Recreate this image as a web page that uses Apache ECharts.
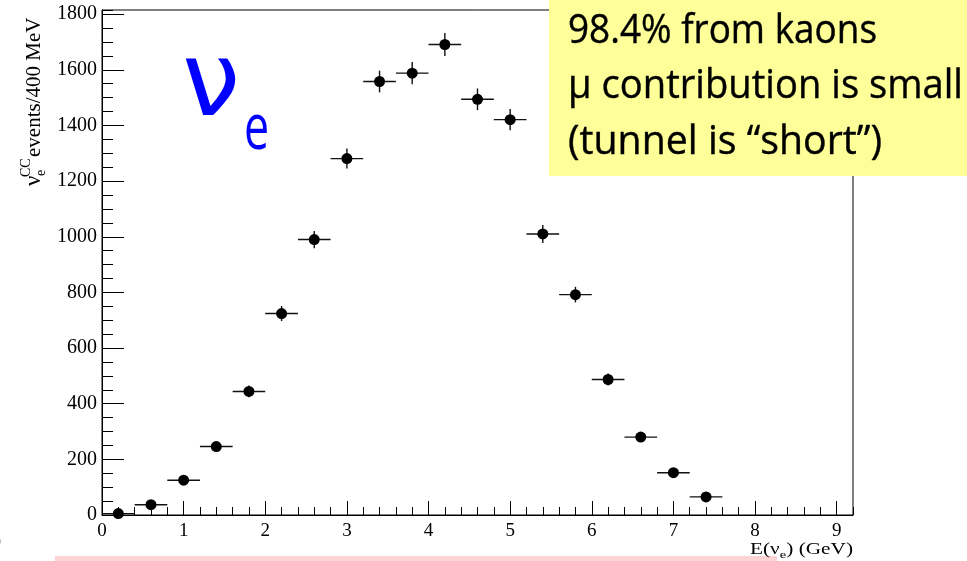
<!DOCTYPE html>
<html><head><meta charset="utf-8">
<script src="https://cdn.jsdelivr.net/npm/echarts@6/dist/echarts.min.js"></script>
<style>html,body{margin:0;padding:0;background:#fff}#c{width:967px;height:561px}</style>
</head><body><div id="c"></div>
<script>
const energyBinCenters = [0.2,0.6,1.0,1.4,1.8,2.2,2.6,3.0,3.4,3.8,4.2,4.6,5.0,5.4,5.8,6.2,6.6,7.0,7.4];
const eventCounts = [5,37,125,246,444,724,990,1281,1558,1588,1691,1494,1421,1010,792,487,280,152,65];
const countErrors = [2,6,11,16,21,27,31,36,39,40,41,39,38,32,28,22,17,12,8];
const binHalfWidth = 0.2;
const xTickValues = [0,1,2,3,4,5,6,7,8,9];
const xTickLabels = ['0','1','2','3','4','5','6','7','8','9'];
const yTickValues = [0,200,400,600,800,1000,1200,1400,1600,1800];
const yTickLabels = ['0','200','400','600','800','1000','1200','1400','1600','1800'];
const xRange = [0, 9.2];
const yRange = [0, 1815];
const boxLines = ['98.4% from kaons', '\u03bc contribution is small', '(tunnel is \u201cshort\u201d)'];

const measureCtx = document.createElement('canvas').getContext('2d');
function textWidth(t, font){ measureCtx.font = font; return measureCtx.measureText(t).width; }

const chart = echarts.init(document.getElementById('c'), null, {renderer:'canvas'});
const serif = 'Liberation Serif';
const tickLine = {color:'#000', width:1};

function fmtX(v){ const i = xTickValues.indexOf(Math.round(v*1000)/1000); return i>=0 ? xTickLabels[i] : ''; }
function fmtY(v){ const i = yTickValues.indexOf(Math.round(v)); return i>=0 ? yTickLabels[i] : ''; }

const errData = energyBinCenters.map((x,i)=>[x, eventCounts[i], binHalfWidth, countErrors[i]]);
const ptData = energyBinCenters.map((x,i)=>[x, eventCounts[i]]);

// yellow box text
const boxFont = '41px "Open Sans"';
const boxTargets = [309, 395, 314];
const boxCenters = [31, 86, 142];
const boxTexts = boxLines.map((t,i)=>({
  type:'text', x:568, y:boxCenters[i], scaleX: boxTargets[i]/textWidth(t, boxFont), z:101,
  style:{text:t, font:boxFont, fill:'#000', align:'left', verticalAlign:'middle', stroke:'#000', lineWidth:0.4}
}));

// x axis name composition
const xnFont = '16px "Liberation Serif"', xnSub = '11px "Liberation Serif"';
const xnParts = ['E(\u03bd', 'e', ') (GeV)'];
const xnW = textWidth(xnParts[0], xnFont) + textWidth(xnParts[1], xnSub) + textWidth(xnParts[2], xnFont);
const xnScale = 103 / xnW;
const xnX0 = 853 - 103;
const w0 = textWidth(xnParts[0], xnFont)*xnScale, w1 = textWidth(xnParts[1], xnSub)*xnScale;

const option = {
  animation:false,
  backgroundColor:'#fff',
  grid:{left:102, right:114, top:10, bottom:46, show:true, borderColor:'#000', borderWidth:1, backgroundColor:'transparent'},
  xAxis:[
    {type:'value', min:xRange[0], max:xRange[1], interval:1, position:'bottom',
     axisLine:{show:true, onZero:false, lineStyle:tickLine},
     axisTick:{show:true, inside:true, length:14, lineStyle:tickLine},
     splitLine:{show:false},
     axisLabel:{show:true, margin:7, color:'#000', fontFamily:serif, fontSize:19, showMaxLabel:false, formatter:fmtX}},
    {type:'value', min:xRange[0], max:xRange[1], interval:0.2, position:'bottom',
     axisLine:{show:false}, axisTick:{show:true, inside:true, length:8, lineStyle:tickLine},
     splitLine:{show:false}, axisLabel:{show:false}}
  ],
  yAxis:[
    {type:'value', min:yRange[0], max:yRange[1], interval:200, position:'left',
     axisLine:{show:true, onZero:false, lineStyle:tickLine},
     axisTick:{show:true, inside:true, length:22, lineStyle:tickLine},
     splitLine:{show:false},
     axisLabel:{show:true, margin:5, color:'#000', fontFamily:serif, fontSize:20, showMaxLabel:false, formatter:fmtY}},
    {type:'value', min:yRange[0], max:yRange[1], interval:50, position:'left',
     axisLine:{show:false}, axisTick:{show:true, inside:true, length:11, lineStyle:tickLine},
     splitLine:{show:false}, axisLabel:{show:false}}
  ],
  series:[
    {type:'custom', xAxisIndex:0, yAxisIndex:0, data:errData, z:2, encode:{x:0, y:1},
     renderItem:function(params, api){
       const x=api.value(0), y=api.value(1), ex=api.value(2), ey=api.value(3);
       const l=api.coord([x-ex,y]), r=api.coord([x+ex,y]), b=api.coord([x,Math.max(0,y-ey)]), t=api.coord([x,y+ey]);
       const st={stroke:'#111', lineWidth:1.4};
       return {type:'group', children:[
         {type:'line', shape:{x1:l[0],y1:l[1],x2:r[0],y2:r[1]}, style:st},
         {type:'line', shape:{x1:b[0],y1:b[1],x2:t[0],y2:t[1]}, style:st}
       ]};
     }},
    {type:'scatter', xAxisIndex:0, yAxisIndex:0, data:ptData, symbol:'circle', symbolSize:11,
     itemStyle:{color:'#000', opacity:1}, z:3, silent:true}
  ],
  graphic:[
    {type:'rect', z:100, shape:{x:549, y:0, width:418, height:176}, style:{fill:'#ffff99'}},
    ...boxTexts,
    {type:'rect', z:100, shape:{x:55, y:556, width:722, height:5}, style:{fill:'#fdd3d3'}},
    {type:'text', x:182, y:88, z:100, style:{text:'\u03bd', font:'104px "DejaVu Sans"', fill:'#0000ff', align:'left', verticalAlign:'middle'}},
    {type:'text', x:244, y:131, z:100, scaleX:0.7, style:{text:'e', font:'64px "Open Sans"', fill:'#0000ff', align:'left', verticalAlign:'middle'}},
    // x axis name
    {type:'text', x:xnX0, y:550, z:100, scaleX:xnScale, style:{text:xnParts[0], font:xnFont, fill:'#000', align:'left', verticalAlign:'middle'}},
    {type:'text', x:xnX0+w0, y:555, z:100, scaleX:xnScale, style:{text:xnParts[1], font:xnSub, fill:'#000', align:'left', verticalAlign:'middle'}},
    {type:'text', x:xnX0+w0+w1, y:550, z:100, scaleX:xnScale, style:{text:xnParts[2], font:xnFont, fill:'#000', align:'left', verticalAlign:'middle'}},
    // y axis name (rotated)
    {type:'group', x:34, y:186, rotation:Math.PI/2, z:100, children:[
      {type:'text', x:0, y:0, style:{text:'\u03bd', font:'23px "Liberation Serif"', fill:'#000', align:'left', verticalAlign:'middle'}},
      {type:'text', x:9, y:-8, style:{text:'CC', font:'14px "Liberation Serif"', fill:'#000', align:'left', verticalAlign:'middle'}},
      {type:'text', x:10, y:7, style:{text:'e', font:'14px "Liberation Serif"', fill:'#000', align:'left', verticalAlign:'middle'}},
      {type:'text', x:29, y:0, style:{text:'events/400 MeV', font:'21px "Liberation Serif"', fill:'#000', align:'left', verticalAlign:'middle'}}
    ]},
    {type:'text', x:-8, y:543, z:100, style:{text:'0', font:'18px "Liberation Serif"', fill:'#000', align:'left', verticalAlign:'middle'}}
  ]
};
chart.setOption(option);
</script>
</body></html>
